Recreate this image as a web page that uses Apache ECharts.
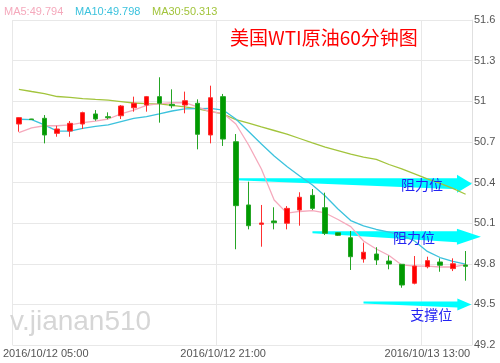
<!DOCTYPE html>
<html>
<head>
<meta charset="utf-8">
<script src="https://cdn.jsdelivr.net/npm/echarts@6/dist/echarts.min.js"></script>
<style>
html,body{margin:0;padding:0;background:#fff;}
#c{width:500px;height:363px;}
</style>
</head>
<body>
<div id="c"></div>
<script>
// ---------- data ----------
const categories = [
  '2016/10/12 05:00','2016/10/12 06:00','2016/10/12 07:00','2016/10/12 08:00','2016/10/12 09:00','2016/10/12 10:00',
  '2016/10/12 11:00','2016/10/12 12:00','2016/10/12 13:00','2016/10/12 14:00','2016/10/12 15:00','2016/10/12 16:00',
  '2016/10/12 17:00','2016/10/12 18:00','2016/10/12 19:00','2016/10/12 20:00','2016/10/12 21:00','2016/10/12 22:00',
  '2016/10/12 23:00','2016/10/13 00:00','2016/10/13 01:00','2016/10/13 02:00','2016/10/13 03:00','2016/10/13 04:00',
  '2016/10/13 05:00','2016/10/13 06:00','2016/10/13 07:00','2016/10/13 08:00','2016/10/13 09:00','2016/10/13 10:00',
  '2016/10/13 11:00','2016/10/13 12:00','2016/10/13 13:00','2016/10/13 14:00','2016/10/13 15:00','2016/10/13 16:00'
];
const opens  = [50.832,50.869,50.874,50.763,50.780,50.832,50.906,50.886,50.893,50.952,50.972,51.034,
                50.977,50.972,50.985,50.751,51.034,50.701,50.234,50.091,50.116,50.099,50.197,50.305,
                50.214,50.029,49.992,49.835,49.872,49.820,49.796,49.656,49.778,49.813,49.764,49.791];
const closes = [50.879,50.865,50.751,50.795,50.837,50.916,50.869,50.879,50.965,50.985,51.034,50.985,
                50.967,51.004,50.756,51.026,50.721,50.229,50.081,50.101,50.103,50.209,50.291,50.209,
                50.025,50.010,49.852,49.885,49.828,49.798,49.643,49.783,49.823,49.789,49.800,49.781];
const lows   = [50.775,50.862,50.689,50.738,50.738,50.795,50.856,50.867,50.869,50.923,50.923,50.842,
                50.948,50.911,50.645,50.689,50.670,49.907,50.054,49.926,50.054,50.054,50.081,50.197,
                50.012,50.005,49.754,49.808,49.791,49.759,49.623,49.648,49.766,49.741,49.746,49.675];
const highs  = [50.882,50.870,50.898,50.819,50.854,50.923,50.935,50.918,50.972,51.034,51.039,51.177,
                51.088,51.071,51.014,51.115,51.054,50.758,50.406,50.234,50.217,50.226,50.328,50.352,
                50.325,50.032,50.042,49.956,49.922,49.860,49.796,49.857,49.852,49.840,49.840,49.894];
const ma5  = [50.768,50.803,50.819,50.819,50.825,50.842,50.854,50.869,50.906,50.935,50.969,50.983,
              50.989,50.989,50.958,50.921,50.911,50.832,50.677,50.500,50.271,50.174,50.186,50.193,
              50.175,50.127,50.074,49.968,49.909,49.861,49.791,49.783,49.783,49.776,49.776,49.794];
const ma10 = [50.867,50.865,50.825,50.780,50.780,50.799,50.814,50.825,50.850,50.873,50.887,50.906,
              50.928,50.943,50.945,50.947,50.935,50.869,50.777,50.684,50.596,50.518,50.448,50.382,
              50.300,50.204,50.119,50.079,50.053,50.034,50.012,49.968,49.891,49.846,49.817,49.798];
const ma30 = [51.088,51.072,51.057,51.035,51.028,51.020,51.014,51.009,50.998,50.987,50.983,50.980,
              50.969,50.958,50.943,50.925,50.906,50.865,50.839,50.810,50.784,50.758,50.725,50.692,
              50.662,50.636,50.610,50.588,50.570,50.533,50.500,50.463,50.426,50.393,50.356,50.313];
const yMin = 49.2, yMax = 51.6, yStep = 0.3;
const chartTitle = '美国WTI原油60分钟图';
const watermark = 'v.jianan510';
const levelNames  = ['阻力位', '阻力位', '支撑位'];
const levelValues = [50.39, 50.0, 49.5];
const levelStart  = ['2016/10/12 22:00', '2016/10/13 04:00', '2016/10/13 08:00'];

// ---------- chart ----------
const chart = echarts.init(document.getElementById('c'), null, {renderer: 'canvas'});
const candleData = categories.map((c, i) => [opens[i], closes[i], lows[i], highs[i]]);
const C5 = '#f5a9bc', C10 = '#3cc2dd', C30 = '#a2c43c';
const LBL = 'Liberation Sans, Arial, sans-serif';

chart.setOption({
  animation: false,
  backgroundColor: '#fff',
  grid: {left: 4, right: 28, top: 20, bottom: 18, show: false},
  xAxis: {
    type: 'category',
    data: categories.map((c, i) => i === 0 ? {value: c, textStyle: {align: 'left', padding: [0, 0, 0, -16]}} : c),
    boundaryGap: true,
    axisLine: {show: false},
    axisTick: {show: false},
    axisLabel: {interval: 15, margin: 3, color: '#555', fontSize: 11, fontFamily: LBL},
    splitLine: {show: true, interval: 15, lineStyle: {color: '#e8e8e8', width: 1}}
  },
  yAxis: {
    type: 'value', position: 'right', min: yMin, max: yMax, interval: yStep, scale: true,
    axisLine: {show: true, lineStyle: {color: '#e0e0e0'}},
    axisTick: {show: false},
    axisLabel: {margin: 2, color: '#555', fontSize: 11, fontFamily: LBL},
    splitLine: {show: true, lineStyle: {color: '#e8e8e8', width: 1}}
  },
  series: [
    {type: 'line', data: ma30, symbol: 'none', smooth: false, lineStyle: {color: C30, width: 1.3}, z: 3},
    {type: 'line', data: ma10, symbol: 'none', smooth: false, lineStyle: {color: C10, width: 1.3}, z: 3},
    {type: 'line', data: ma5, symbol: 'none', smooth: false, lineStyle: {color: C5, width: 1.3}, z: 3},
    {type: 'candlestick', data: candleData, barWidth: 5, z: 4,
     itemStyle: {color: '#ff0000', color0: '#009a00', borderColor: '#ff3030', borderColor0: '#25a525', borderWidth: 1}}
  ]
});

function xOf(f) {
  const n = categories.length;
  const i0 = Math.min(Math.max(Math.floor(f), 0), n - 2);
  const a = chart.convertToPixel({xAxisIndex: 0}, categories[i0]);
  const b = chart.convertToPixel({xAxisIndex: 0}, categories[i0 + 1]);
  return a + (b - a) * (f - i0);
}
function yOf(v) { return chart.convertToPixel({yAxisIndex: 0}, v); }

const arrowGeom = [
  {tip: 35.5, head: 15, half: 9, thick: 11, lx: 50, ly: 0.5},
  {tip: 36.2, head: 24, half: 8, thick: 11, lx: 67, ly: 1.5},
  {tip: 35.45, head: 14, half: 6, thick: 6, lx: 40, ly: 10}
];
const graphics = [];
levelValues.forEach((lv, k) => {
  const g = arrowGeom[k];
  const cy = yOf(lv);
  const sx = chart.convertToPixel({xAxisIndex: 0}, levelStart[k]);
  const tx = xOf(g.tip);
  const bx = tx - g.head;
  const top = cy - g.thick / 2;
  graphics.push({
    type: 'polygon', z: 1,
    shape: {points: [[sx, top], [bx, top], [bx, cy - g.half], [tx, cy], [bx, cy + g.half], [bx, top + g.thick], [sx, top + 2]]},
    style: {fill: '#00ffff'}
  });
  graphics.push({
    type: 'text', z: 100,
    style: {text: levelNames[k], x: tx - g.lx, y: cy + g.ly, align: 'center', verticalAlign: 'middle',
            font: '14px "Noto Sans CJK SC", sans-serif', fill: '#2323f2'}
  });
});
// legend-like texts
const legendItems = [['MA5', ma5, C5, 4], ['MA10', ma10, C10, 75], ['MA30', ma30, C30, 152]];
legendItems.forEach(([name, arr, col, x]) => {
  graphics.push({type: 'text', z: 100,
    style: {text: name + ':' + arr[arr.length - 1].toFixed(3), x: x, y: 12, verticalAlign: 'middle',
            font: '11px ' + LBL, fill: col}});
});
graphics.push({type: 'text', z: 100,
  style: {text: chartTitle, x: 230, y: 38, verticalAlign: 'middle', font: '19px "Noto Sans CJK SC", sans-serif', fill: '#ff0000'}});
graphics.push({type: 'text', z: 0,
  style: {text: watermark, x: 10, y: 322, verticalAlign: 'middle', font: '28px ' + LBL, fill: '#d6d6d6'}});
chart.setOption({graphic: graphics});
</script>
</body>
</html>
